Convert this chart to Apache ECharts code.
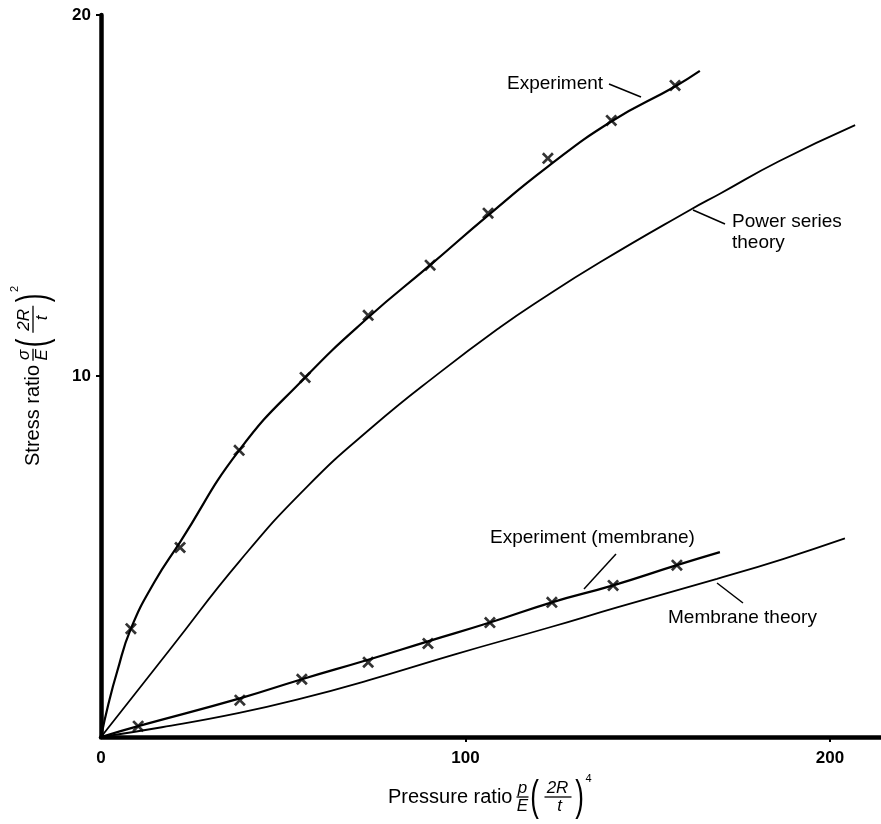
<!DOCTYPE html>
<html><head><meta charset="utf-8">
<script src="https://cdn.jsdelivr.net/npm/echarts@6/dist/echarts.min.js"></script>
<style>html,body{margin:0;padding:0;background:#fff}#c{width:881px;height:824px}</style>
</head><body><div id="c"></div>
<script>
// ---- data ----
const xTickValues = [0, 100, 200];
const yTickValues = [10, 20];

const experimentCurve = [[0,0],[2,0.9],[4.4,1.8],[8.2,3.0],[14.7,4.3],[21.7,5.4],[37.9,7.94],[56,9.96],[73.3,11.62],[90.3,13.07],[106.2,14.45],[122.6,15.8],[140,17.05],[157.5,18.02],[164.3,18.45]];
const experimentMarks = [[8.2,3.0],[21.7,5.25],[37.9,7.94],[56,9.96],[73.3,11.68],[90.3,13.07],[106.2,14.51],[122.6,16.03],[140,17.08],[157.5,18.05]];
const powerSeriesCurve = [[0,0],[10,1.28],[19.5,2.5],[38.1,4.88],[56.5,6.93],[74.6,8.6],[93,10.1],[109.5,11.35],[120.4,12.1],[136.9,13.15],[161.6,14.6],[169.8,15.05],[186,15.95],[206.9,16.95]];
const membraneExpCurve = [[0,0],[10.2,0.3],[38.1,1.07],[55.1,1.6],[73.3,2.14],[89.7,2.65],[106.7,3.17],[123.7,3.73],[140.5,4.2],[158,4.76],[169.8,5.12]];
const membraneExpMarks = [[10.2,0.3],[38.1,1.02],[55.1,1.6],[73.3,2.07],[89.7,2.59],[106.7,3.17],[123.7,3.73],[140.5,4.2],[158,4.76]];
const membraneTheoryCurve = [[0,0],[16.7,0.27],[37.6,0.66],[55.1,1.07],[73.3,1.57],[97.1,2.29],[123.2,3.04],[141.6,3.59],[169,4.38],[187.1,4.93],[204.1,5.5]];

const curveLabels = ['Experiment', 'Power series', 'theory', 'Experiment (membrane)', 'Membrane theory'];
const xTitle = ['Pressure ratio', 'p', 'E', '2R', 't', '4'];
const yTitle = ['Stress ratio', 'σ', 'E', '2R', 't', '2'];

// ---- styling ----
const FONT = '"Liberation Sans", Arial, Helvetica, sans-serif';
const xMark = 'path://M0,1.6L1.6,0L5,3.4L8.4,0L10,1.6L6.6,5L10,8.4L8.4,10L5,6.6L1.6,10L0,8.4L3.4,5Z';

function measure(text, size, style) {
  const c = document.createElement('canvas').getContext('2d');
  c.font = (style || '') + ' ' + size + 'px ' + FONT;
  return c.measureText(text).width;
}
function txt(text, x, y, size, align, extra, elProps) {
  return Object.assign({
    type: 'text', x: x, y: y, silent: true,
    style: Object.assign({
      text: text, fontSize: size, fontFamily: FONT, fill: '#000',
      align: align || 'left', textAlign: align || 'left',
      verticalAlign: 'middle', textVerticalAlign: 'middle'
    }, extra || {})
  }, elProps || {});
}
function seg(x1, y1, x2, y2, w) {
  return { type: 'line', silent: true, shape: { x1: x1, y1: y1, x2: x2, y2: y2 }, style: { stroke: '#000', lineWidth: w || 1.3 } };
}
function titleGroup(parts, x, y, rot) {
  const W = measure(parts[0], 20);
  const it = { fontStyle: 'italic' };
  return {
    type: 'group', x: x, y: y, rotation: rot, silent: true,
    children: [
      txt(parts[0], 0, 0, 20, 'left'),
      txt(parts[1], W + 10, -9, 17, 'center', it),
      seg(W + 4, 0, W + 16, 0),
      txt(parts[2], W + 10, 9, 17, 'center', it),
      txt('(', W + 22, 1, 26, 'center', {}, { scaleY: 1.65 }),
      txt(parts[3], W + 45, -9, 17, 'center', it),
      seg(W + 32, 0, W + 59, 0),
      txt(parts[4], W + 47, 9, 17, 'center', it),
      txt(')', W + 67, 1, 26, 'center', {}, { scaleY: 1.65 }),
      txt(parts[5], W + 76, -18, 11, 'center')
    ]
  };
}

const chart = echarts.init(document.getElementById('c'), null, { renderer: 'canvas' });
const option = {
  animation: false,
  backgroundColor: '#fff',
  grid: { left: 101, right: 0, top: 15, bottom: 87, containLabel: false },
  xAxis: {
    type: 'value', min: 0, max: 214, interval: 100,
    axisLine: { show: true, onZero: false, lineStyle: { color: '#000', width: 4.5 } },
    axisTick: { show: true, customValues: xTickValues.filter(v => v > 0), length: 5, lineStyle: { color: '#000', width: 2 } },
    axisLabel: { customValues: xTickValues, fontSize: 17, fontWeight: 'bold', color: '#000', margin: 13, fontFamily: FONT },
    splitLine: { show: false }
  },
  yAxis: {
    type: 'value', min: 0, max: 20, interval: 10,
    axisLine: { show: true, onZero: false, lineStyle: { color: '#000', width: 4.5 } },
    axisTick: { show: true, customValues: yTickValues, length: 5, lineStyle: { color: '#000', width: 2 } },
    axisLabel: { customValues: yTickValues, fontSize: 17, fontWeight: 'bold', color: '#000', margin: 10, fontFamily: FONT },
    splitLine: { show: false }
  },
  series: [
    { name: 'Experiment', type: 'line', data: experimentCurve, showSymbol: false, smooth: 0.5, lineStyle: { color: '#000', width: 2.2 } },
    { name: 'Experiment marks', type: 'scatter', data: experimentMarks, symbol: xMark, symbolSize: 12, itemStyle: { color: '#000' } },
    { name: 'Power series theory', type: 'line', data: powerSeriesCurve, showSymbol: false, smooth: 0.5, lineStyle: { color: '#000', width: 1.8 } },
    { name: 'Experiment (membrane)', type: 'line', data: membraneExpCurve, showSymbol: false, smooth: 0.5, lineStyle: { color: '#000', width: 2.2 } },
    { name: 'Membrane marks', type: 'scatter', data: membraneExpMarks, symbol: xMark, symbolSize: 12, itemStyle: { color: '#000' } },
    { name: 'Membrane theory', type: 'line', data: membraneTheoryCurve, showSymbol: false, smooth: 0.5, lineStyle: { color: '#000', width: 1.8 } }
  ],
  graphic: [
    txt(curveLabels[0], 507, 84, 19),
    seg(609, 84, 641, 97, 1.5),
    txt(curveLabels[1], 732, 222, 19),
    txt(curveLabels[2], 732, 243, 19),
    seg(693, 210, 725, 224, 1.5),
    txt(curveLabels[3], 490, 538, 19),
    seg(616, 554, 584, 589, 1.5),
    txt(curveLabels[4], 668, 618, 19),
    seg(717, 583, 743, 603, 1.5),
    titleGroup(xTitle, 388, 797, 0),
    titleGroup(yTitle, 33, 466, Math.PI / 2)
  ]
};
chart.setOption(option);
</script>
</body></html>
